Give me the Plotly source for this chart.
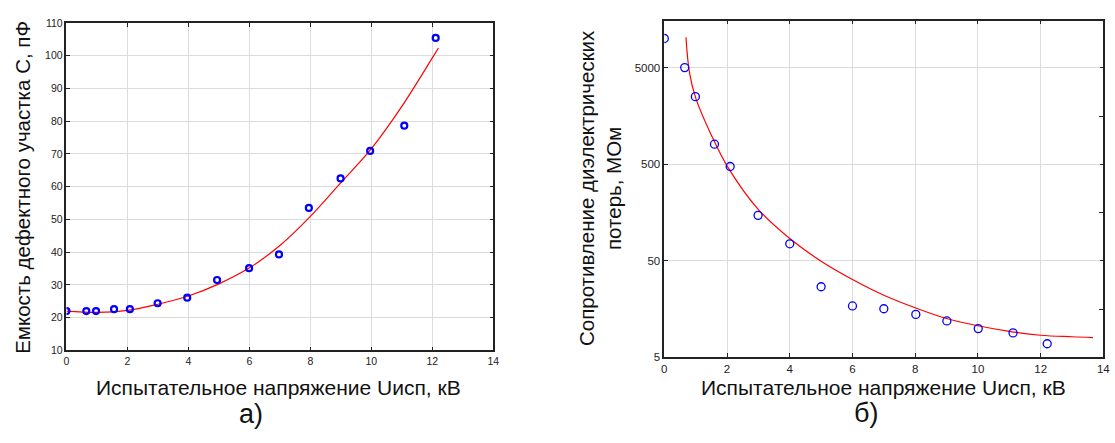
import plotly.graph_objects as go
import numpy as np

# ---- Panel a) capacitance ----
cap_u = [0.0, 0.65, 0.97, 1.56, 2.08, 2.99, 3.96, 4.94, 5.99, 6.97, 7.95, 8.99, 9.96, 11.08, 12.11]
cap_c = [22.0, 22.0, 22.0, 22.6, 22.6, 24.4, 26.1, 31.5, 35.1, 39.3, 53.5, 62.5, 70.9, 78.6, 105.4]
cap_fit_u = [0, 1, 2, 3, 4, 5, 6, 7, 8, 9, 10, 11, 12, 12.2]
cap_fit_c = [22.0, 21.6, 22.2, 24.1, 26.6, 30.3, 35.2, 42.0, 50.9, 61.2, 71.6, 84.5, 99.3, 102.3]

# ---- Panel б) resistance ----
res_u = [0.0, 0.65, 0.99, 1.60, 2.10, 2.99, 4.0, 5.0, 6.0, 7.0, 8.02, 9.01, 10.01, 11.12, 12.21]
res_r = [10100, 5040, 2520, 810, 475, 148, 75, 26.9, 17.0, 15.9, 13.9, 11.9, 9.9, 8.94, 6.9]
res_fit_u = [0.69, 0.8, 1.0, 1.5, 2.0, 3.0, 4.0, 5.0, 6.0, 7.0, 8.0, 9.0, 10.0, 11.0, 12.0, 13.0, 13.67]
res_fit_r = [10400, 4530, 2450, 1005, 483, 170, 85, 49.5, 32.0, 22.0, 16.3, 12.6, 10.6, 9.27, 8.45, 8.15, 8.0]

x_ticks = [0, 2, 4, 6, 8, 10, 12, 14]
cap_ticks = [10, 20, 30, 40, 50, 60, 70, 80, 90, 100, 110]
res_ticks = [5, 50, 500, 5000]
res_half_ticks = [15.81, 158.1, 1581]

xlabel = "Испытательное напряжение Uисп, кВ"
ylabel_a = "Емкость дефектного участка С, пФ"
ylabel_b = "Сопротивление диэлектрических<br>потерь, МОм"

W, H = 1115, 443
FONT = "Liberation Sans, Arial, sans-serif"
AX = "#222222"
GRID = "#dcdcdc"

fig = go.Figure()
fig.add_trace(go.Scatter(x=cap_fit_u, y=cap_fit_c, mode="lines", line=dict(color="#ff0000", width=1.2, shape="spline"),
                         xaxis="x", yaxis="y", showlegend=False))
fig.add_trace(go.Scatter(x=cap_u, y=cap_c, mode="markers",
                         marker=dict(symbol="circle-open", size=6, color="#0000ff", line=dict(width=2.2, color="#0000ff")),
                         xaxis="x", yaxis="y", showlegend=False))
fig.add_trace(go.Scatter(x=res_fit_u, y=res_fit_r, mode="lines", line=dict(color="#ff0000", width=1.2, shape="spline"),
                         xaxis="x2", yaxis="y2", showlegend=False))
fig.add_trace(go.Scatter(x=res_u, y=res_r, mode="markers",
                         marker=dict(symbol="circle-open", size=8, color="#0000ff", line=dict(width=1.3, color="#0000ff")),
                         xaxis="x2", yaxis="y2", showlegend=False))
fig.add_trace(go.Scatter(x=[None], y=[None], xaxis="x2", yaxis="y3", showlegend=False, hoverinfo="skip"))

def px_x(p):
    return p / W

def px_y(p):
    return 1 - p / H

common = dict(showline=True, linecolor=AX, linewidth=1.5, mirror="ticks", ticks="inside", ticklen=4,
              tickcolor=AX, gridcolor=GRID, gridwidth=1, zeroline=False)

fig.update_layout(
    width=W, height=H, margin=dict(l=0, r=0, t=0, b=0),
    paper_bgcolor="white", plot_bgcolor="white",
    font=dict(family=FONT, color="#222"),
    xaxis=dict(domain=[px_x(64), px_x(494.3)], range=[0, 14], tickvals=x_ticks, anchor="y",
               tickfont=dict(size=10.5, color="#222"), **common),
    yaxis=dict(domain=[px_y(354), px_y(17.3)], range=[10, 110], tickvals=cap_ticks, anchor="x",
               tickfont=dict(size=10.5, color="#222"), **common),
    xaxis2=dict(domain=[px_x(666.7), px_x(1109.3)], range=[0, 14], tickvals=x_ticks, anchor="y2",
                tickfont=dict(size=11.5, color="#222"), **common),
    yaxis2=dict(domain=[px_y(361), px_y(15)], type="log", range=[np.log10(5), 4.19], tickvals=res_ticks,
                ticktext=[str(v) for v in res_ticks], anchor="x2",
                tickfont=dict(size=11.5, color="#222"), **common),
    yaxis3=dict(overlaying="y2", side="right", anchor="x2", type="log", range=[np.log10(5), 4.19],
                tickvals=res_half_ticks, ticks="inside", ticklen=4, tickcolor=AX, showticklabels=False,
                showgrid=False, showline=False, zeroline=False),
)

ann = [
    dict(text=xlabel, x=px_x(278), y=px_y(392), font=dict(size=21)),
    dict(text=xlabel, x=px_x(888), y=px_y(392), font=dict(size=21)),
    dict(text="а)", x=px_x(250), y=px_y(419), font=dict(size=27)),
    dict(text="б)", x=px_x(870), y=px_y(418), font=dict(size=27)),
    dict(text=ylabel_a, x=px_x(20), y=px_y(186), font=dict(size=20.5), textangle=-90),
    dict(text=ylabel_b, x=px_x(602), y=px_y(187), font=dict(size=20.5), textangle=-90),
]
for a in ann:
    a.update(xref="paper", yref="paper", showarrow=False, xanchor="center", yanchor="middle")
    a["font"] = dict(family=FONT, color="#111", **a["font"])
fig.update_layout(annotations=ann)

post = """
document.body.style.margin='0';
document.body.style.overflow='hidden';
"""
fig.write_html("out.html", post_script=post, config={"displayModeBar": False})
